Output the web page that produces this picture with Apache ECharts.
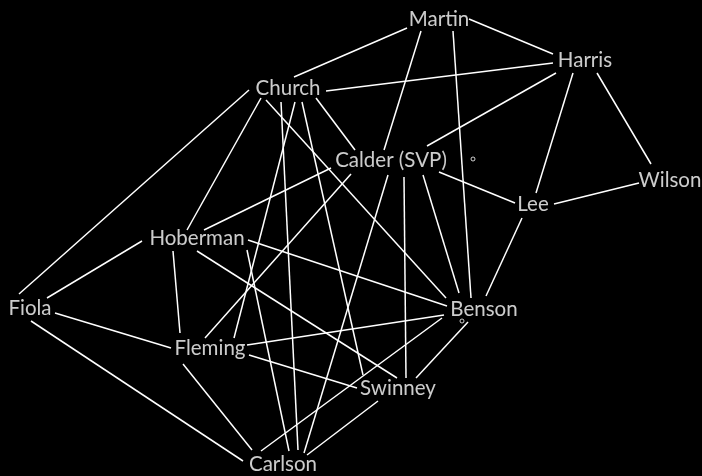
<!DOCTYPE html>
<html>
<head>
<meta charset="utf-8">
<script src="https://cdn.jsdelivr.net/npm/echarts@6/dist/echarts.min.js"></script>
<style>
  html, body { margin: 0; padding: 0; background: #000; }
  #chart { width: 702px; height: 476px; }
</style>
</head>
<body>
<div id="chart"></div>
<script>
// sociogram: people and where their names sit on the sheet
const people = ['Martin', 'Harris', 'Church', 'Calder (SVP)', 'Wilson', 'Lee',
  'Hoberman', 'Fiola', 'Benson', 'Fleming', 'Swinney', 'Carlson'];
const posX = [439, 585, 288, 391, 670, 533, 197, 30, 484, 210, 398, 283];
const posY = [19, 60, 88, 160, 180, 204, 238, 308, 309, 348, 388, 464];

// who is linked to whom
const links = [
  ['Martin', 'Harris'], ['Martin', 'Church'], ['Martin', 'Calder (SVP)'], ['Martin', 'Benson'],
  ['Harris', 'Church'], ['Harris', 'Calder (SVP)'], ['Harris', 'Lee'], ['Harris', 'Wilson'],
  ['Lee', 'Wilson'], ['Calder (SVP)', 'Lee'], ['Lee', 'Benson'],
  ['Church', 'Fiola'], ['Church', 'Hoberman'], ['Church', 'Calder (SVP)'], ['Church', 'Benson'],
  ['Church', 'Fleming'], ['Church', 'Carlson'], ['Church', 'Swinney'],
  ['Calder (SVP)', 'Hoberman'], ['Calder (SVP)', 'Fleming'], ['Calder (SVP)', 'Carlson'],
  ['Calder (SVP)', 'Swinney'], ['Calder (SVP)', 'Benson'],
  ['Hoberman', 'Fiola'], ['Hoberman', 'Fleming'], ['Hoberman', 'Benson'],
  ['Hoberman', 'Swinney'], ['Hoberman', 'Carlson'],
  ['Fiola', 'Fleming'], ['Fiola', 'Carlson'],
  ['Fleming', 'Benson'], ['Fleming', 'Swinney'], ['Fleming', 'Carlson'],
  ['Benson', 'Carlson'], ['Benson', 'Swinney'], ['Swinney', 'Carlson']
];

// where each link's stroke starts and stops (x1, y1, x2, y2), same order as links
const linkEnds = [
  [469, 19, 553, 54], [407, 28, 294, 77], [421, 31, 384, 150], [453, 31, 471, 298],
  [553, 63, 326, 91], [556, 73, 427, 146], [573, 73, 536, 193], [597, 73, 651, 164],
  [554, 204, 639, 183], [439, 172, 515, 203], [522, 218, 486, 296],
  [249, 90, 19, 294], [261, 98, 187, 230], [316, 98, 355, 150], [266, 100, 446, 298],
  [295, 102, 234, 338], [281, 102, 298, 450], [302, 102, 363, 375],
  [331, 168, 204, 230], [351, 174, 205, 338], [388, 175, 304, 453],
  [404, 177, 406, 378], [423, 175, 459, 293],
  [142, 241, 47, 298], [173, 251, 180, 333], [248, 240, 447, 306],
  [197, 251, 397, 378], [247, 250, 289, 451],
  [55, 313, 171, 348], [31, 321, 243, 461],
  [247, 345, 444, 315], [249, 355, 357, 388], [183, 364, 252, 450],
  [442, 318, 261, 451], [468, 322, 416, 378], [378, 401, 307, 455]
];

// two little stray rings printed on the page
const specks = [[473, 159], [462, 321]];

let chart = echarts.init(document.getElementById('chart'));

let option = {
  backgroundColor: '#000',
  animation: false,
  grid: { left: 0, right: 0, top: 0, bottom: 0 },
  xAxis: { type: 'value', min: 0, max: 702, show: false },
  yAxis: { type: 'value', min: 0, max: 476, inverse: true, show: false },
  series: [
    {
      type: 'lines',
      coordinateSystem: 'cartesian2d',
      lineStyle: { color: '#fff', width: 1.5, opacity: 1 },
      data: links.map((l, i) => ({
        name: l[0] + ' - ' + l[1],
        coords: [[linkEnds[i][0], linkEnds[i][1]], [linkEnds[i][2], linkEnds[i][3]]]
      }))
    },
    {
      type: 'scatter',
      symbolSize: 0,
      label: {
        show: true,
        position: 'inside',
        formatter: p => p.name,
        color: '#fff',
        fontFamily: 'Lato',
        fontSize: 20.5
      },
      data: people.map((p, i) => ({ name: p, value: [posX[i], posY[i]] }))
    },
    {
      type: 'scatter',
      symbol: 'circle',
      symbolSize: 4,
      itemStyle: { color: '#000', borderColor: '#fff', borderWidth: 1 },
      data: specks
    }
  ]
};

chart.setOption(option);
</script>
</body>
</html>
